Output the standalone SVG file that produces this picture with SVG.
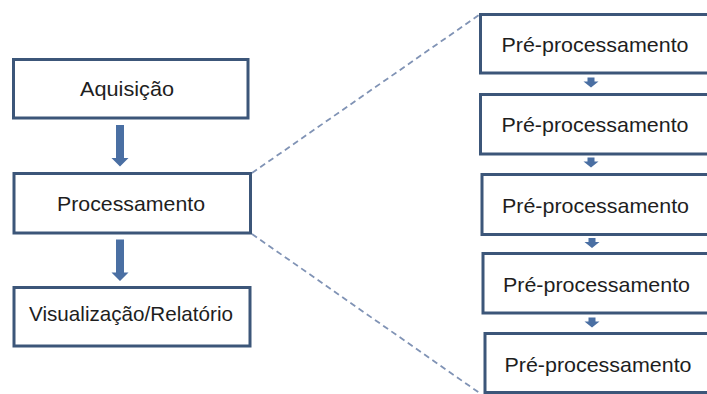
<svg xmlns="http://www.w3.org/2000/svg" width="707" height="394" viewBox="0 0 707 394">
<style>
.box{fill:#ffffff;stroke:#3c5679;stroke-width:3}
.lbl{font-family:"Liberation Sans",Arial,sans-serif;font-size:21px;fill:#1e1e1e;text-anchor:middle}
.big{fill:#4a6fa3}
.small{fill:#4a6fa3}
.dash{fill:none;stroke:#8093b5;stroke-width:1.8;stroke-dasharray:6 4}
</style>
<defs>
<path id="bigArrow" d="M-4,0 H4 V33 H8.5 L0,41.5 L-8.5,33 H-4 Z"/>
<path id="smallArrow" d="M-3.5,0 H3.5 V4 H7.5 L0,10 L-7.5,4 H-3.5 Z"/>
</defs>
<rect width="707" height="394" fill="#ffffff"/>
<g id="connectors">
<line class="dash" x1="252" y1="173" x2="479" y2="15"/>
<line class="dash" x1="252" y1="234" x2="481" y2="394"/>
<use href="#bigArrow" class="big" x="120" y="125"/>
<use href="#bigArrow" class="big" x="120" y="239.5"/>
<use href="#smallArrow" class="small" x="591" y="77.5"/>
<use href="#smallArrow" class="small" x="591" y="157.5"/>
<use href="#smallArrow" class="small" x="592" y="238"/>
<use href="#smallArrow" class="small" x="592" y="317.5"/>
</g>
<g id="aquisicao">
<rect class="box" x="13.5" y="59.5" width="234.5" height="58.5"/>
<text class="lbl" x="127" y="96" textLength="94" lengthAdjust="spacingAndGlyphs">Aquisição</text>
</g>
<g id="processamento">
<rect class="box" x="14" y="173.5" width="236.5" height="59.5"/>
<text class="lbl" x="131" y="211" textLength="148" lengthAdjust="spacingAndGlyphs">Processamento</text>
</g>
<g id="visualizacao">
<rect class="box" x="14" y="287.5" width="236" height="58.5"/>
<text class="lbl" x="131" y="321" textLength="204" lengthAdjust="spacingAndGlyphs">Visualização/Relatório</text>
</g>
<g id="pre1">
<rect class="box" x="480.5" y="14.5" width="240" height="58.5"/>
<text class="lbl" x="595" y="52" textLength="187" lengthAdjust="spacingAndGlyphs">Pré-processamento</text>
</g>
<g id="pre2">
<rect class="box" x="480.5" y="94.5" width="240" height="59.5"/>
<text class="lbl" x="595" y="132" textLength="187" lengthAdjust="spacingAndGlyphs">Pré-processamento</text>
</g>
<g id="pre3">
<rect class="box" x="482" y="174.5" width="240" height="60"/>
<text class="lbl" x="595.5" y="212.5" textLength="187" lengthAdjust="spacingAndGlyphs">Pré-processamento</text>
</g>
<g id="pre4">
<rect class="box" x="483" y="253.5" width="240" height="59.5"/>
<text class="lbl" x="596.5" y="291.5" textLength="187" lengthAdjust="spacingAndGlyphs">Pré-processamento</text>
</g>
<g id="pre5">
<rect class="box" x="485" y="333.5" width="240" height="59"/>
<text class="lbl" x="598" y="371.5" textLength="187" lengthAdjust="spacingAndGlyphs">Pré-processamento</text>
</g>
</svg>
